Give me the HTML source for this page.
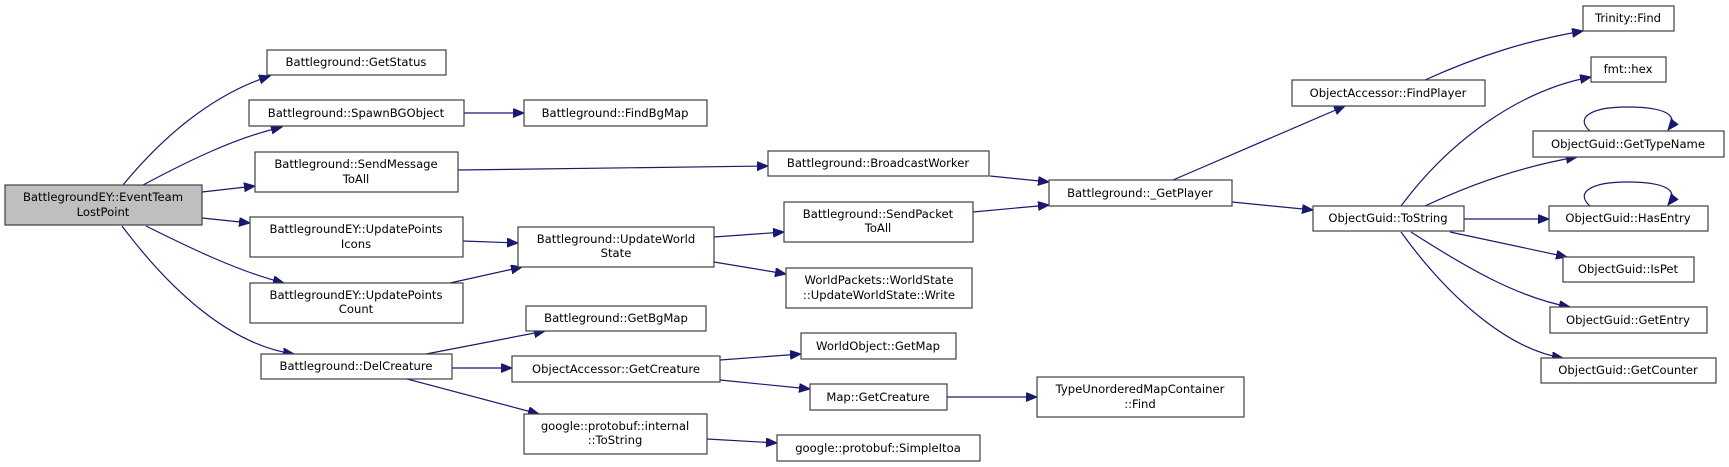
<!DOCTYPE html>
<html><head><meta charset="utf-8"><style>
html,body{margin:0;padding:0;background:#fff;}
svg{display:block}
text{font-family:"DejaVu Sans","Liberation Sans",sans-serif;font-size:11.6px;fill:#000;text-anchor:middle}
rect{fill:#fff;stroke:#404040;stroke-width:1.2}
path{fill:none;stroke:#191970;stroke-width:1.2}
</style></head><body>
<svg width="1729" height="467" viewBox="0 0 1729 467" xmlns="http://www.w3.org/2000/svg">
<defs><marker id="a" markerUnits="userSpaceOnUse" markerWidth="12" markerHeight="10" refX="11" refY="4.5" orient="auto"><polygon points="0,0 11,4.5 0,9" fill="#191970" stroke="#191970"/></marker></defs>
<g marker-end="url(#a)">
<path d="M123,185 C160,140 210,95 270,76"/>
<path d="M143,185 C190,160 235,138 282,127"/>
<path d="M202,192 L255,186"/>
<path d="M202,218 L250,223"/>
<path d="M146,226 C190,248 240,272 284,283"/>
<path d="M122,226 C170,290 230,345 294,354"/>
<path d="M464,113 L524,113"/>
<path d="M458,170 L768,166"/>
<path d="M990,176 L1049,182"/>
<path d="M973,212 L1049,205"/>
<path d="M463,241 L518,243"/>
<path d="M450,283 L522,267"/>
<path d="M714,237 L784,232"/>
<path d="M714,262 L786,274"/>
<path d="M426,354 L545,331"/>
<path d="M452,368 L512,368"/>
<path d="M407,379 L539,414"/>
<path d="M720,360 L801,354"/>
<path d="M720,380 L810,389"/>
<path d="M947,397 L1037,397"/>
<path d="M707,439 L777,443"/>
<path d="M1173,180 L1345,106"/>
<path d="M1232,202 L1313,210"/>
<path d="M1425,80 C1480,55 1530,40 1583,31"/>
<path d="M1401,206 C1450,140 1520,90 1591,77"/>
<path d="M1425,206 C1480,180 1530,165 1577,157"/>
<path d="M1464,219 L1549,219"/>
<path d="M1450,232 L1567,257"/>
<path d="M1411,232 C1470,270 1520,298 1570,307"/>
<path d="M1401,232 C1450,300 1510,350 1563,358"/>
<path d="M1590,131 C1575,118 1590,107 1627,107 C1665,107 1680,115 1668,130"/>
<path d="M1590,206 C1575,193 1590,182 1627,182 C1665,182 1680,190 1668,205"/>
</g>
<rect x="5" y="185" width="197" height="40" style="fill:#bfbfbf"/><text x="103" y="201">BattlegroundEY::EventTeam</text><text x="103" y="216">LostPoint</text>
<rect x="267" y="50" width="179" height="25"/><text x="356" y="66">Battleground::GetStatus</text>
<rect x="249" y="100" width="215" height="26"/><text x="356" y="117">Battleground::SpawnBGObject</text>
<rect x="255" y="152" width="203" height="40"/><text x="356" y="168">Battleground::SendMessage</text><text x="356" y="183">ToAll</text>
<rect x="250" y="217" width="213" height="40"/><text x="356" y="233">BattlegroundEY::UpdatePoints</text><text x="356" y="248">Icons</text>
<rect x="250" y="283" width="213" height="40"/><text x="356" y="299">BattlegroundEY::UpdatePoints</text><text x="356" y="313">Count</text>
<rect x="261" y="354" width="191" height="25"/><text x="356" y="370">Battleground::DelCreature</text>
<rect x="524" y="100" width="183" height="26"/><text x="615" y="117">Battleground::FindBgMap</text>
<rect x="768" y="151" width="221" height="25"/><text x="878" y="167">Battleground::BroadcastWorker</text>
<rect x="1049" y="180" width="183" height="26"/><text x="1140" y="197">Battleground::_GetPlayer</text>
<rect x="784" y="202" width="189" height="40"/><text x="878" y="218">Battleground::SendPacket</text><text x="878" y="232">ToAll</text>
<rect x="518" y="227" width="196" height="40"/><text x="616" y="243">Battleground::UpdateWorld</text><text x="616" y="257">State</text>
<rect x="786" y="268" width="186" height="40"/><text x="879" y="284">WorldPackets::WorldState</text><text x="879" y="299">::UpdateWorldState::Write</text>
<rect x="526" y="306" width="180" height="25"/><text x="616" y="322">Battleground::GetBgMap</text>
<rect x="512" y="356" width="208" height="26"/><text x="616" y="373">ObjectAccessor::GetCreature</text>
<rect x="801" y="333" width="155" height="26"/><text x="878" y="350">WorldObject::GetMap</text>
<rect x="810" y="384" width="137" height="26"/><text x="878" y="401">Map::GetCreature</text>
<rect x="1037" y="377" width="207" height="40"/><text x="1140" y="393">TypeUnorderedMapContainer</text><text x="1140" y="408">::Find</text>
<rect x="524" y="414" width="183" height="40"/><text x="615" y="430">google::protobuf::internal</text><text x="615" y="444">::ToString</text>
<rect x="777" y="435" width="203" height="26"/><text x="878" y="452">google::protobuf::SimpleItoa</text>
<rect x="1583" y="6" width="91" height="25"/><text x="1628" y="22">Trinity::Find</text>
<rect x="1292" y="80" width="193" height="26"/><text x="1388" y="97">ObjectAccessor::FindPlayer</text>
<rect x="1591" y="57" width="75" height="25"/><text x="1628" y="73">fmt::hex</text>
<rect x="1533" y="131" width="191" height="26"/><text x="1628" y="148">ObjectGuid::GetTypeName</text>
<rect x="1313" y="206" width="151" height="25"/><text x="1388" y="222">ObjectGuid::ToString</text>
<rect x="1549" y="206" width="159" height="25"/><text x="1628" y="222">ObjectGuid::HasEntry</text>
<rect x="1563" y="257" width="131" height="25"/><text x="1628" y="273">ObjectGuid::IsPet</text>
<rect x="1550" y="307" width="157" height="26"/><text x="1628" y="324">ObjectGuid::GetEntry</text>
<rect x="1541" y="358" width="175" height="25"/><text x="1628" y="374">ObjectGuid::GetCounter</text>
</svg>
</body></html>
